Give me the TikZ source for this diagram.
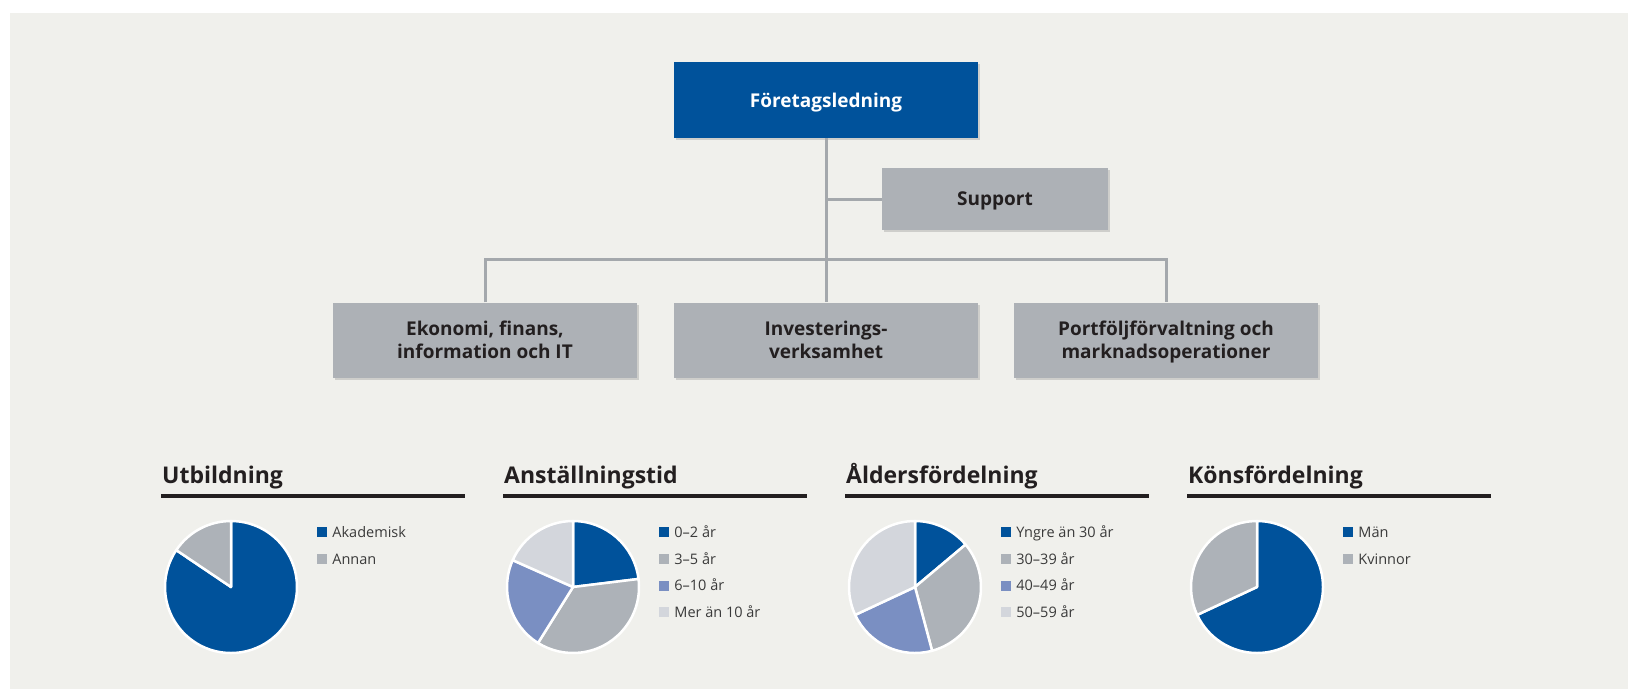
\documentclass[tikz,border=0pt]{standalone}
\usepackage{fontspec}
\setmainfont{Open Sans}
\usetikzlibrary{positioning,shadows}

\definecolor{sbblue}{HTML}{00529B}
\definecolor{boxgray}{HTML}{ADB1B6}
\definecolor{linkgray}{HTML}{A4A8AC}
\definecolor{bggray}{HTML}{F0F0EC}
\definecolor{textdark}{HTML}{231F20}
\definecolor{keytxt}{HTML}{3A3A3A}
\definecolor{midgray}{HTML}{ADB2B8}
\definecolor{lavblue}{HTML}{7A8FC2}
\definecolor{lightgray}{HTML}{D3D6DC}

\begin{document}
\begin{tikzpicture}[x=1pt, y=1pt,
  unit/.style={minimum width=304pt, minimum height=75pt, inner sep=0pt, align=center,
    text depth=0pt, fill=boxgray, text=textdark, font=\fontsize{19}{23}\selectfont\bfseries,
    drop shadow={shadow xshift=1.5pt, shadow yshift=-2pt, opacity=.3}},
  link/.style={draw=linkgray, line width=3pt},
  heading/.style={anchor=base west, inner sep=0pt, text=textdark, font=\fontsize{23}{27}\selectfont\bfseries},
  rule/.style={draw=textdark, line width=3.5pt},
  slice/.style={draw=white, line width=2.5pt, line join=round},
  key/.style={minimum size=10pt, inner sep=0pt},
  keytext/.style={inner sep=0pt, text=keytxt, font=\fontsize{14.5}{17}\selectfont}
]
\useasboundingbox (0,0) rectangle (1628,-689);
\fill[bggray] (10,-13) rectangle (1628,-689);

% organisation
\node[unit, fill=sbblue, text=white, minimum height=76pt] (lead) at (826,-100) {Företagsledning};
\node[unit, minimum width=226pt, minimum height=62pt] (support) at (995,-199) {Support};
\node[unit] (eco) at (485,-340) {Ekonomi, finans,\\information och IT};
\node[unit] (inv) at (826,-340) {Investerings-\\verksamhet};
\node[unit] (port) at (1166,-340) {Portföljförvaltning och\\marknadsoperationer};
\coordinate (bar) at (826,-259);
\draw[link] (lead.south) -- (inv.north);
\draw[link] (support.west) -- (support.west -| lead.south);
\draw[link] (eco.north) |- (bar) -| (port.north);

% headings
\node[heading] (h1) at (162,-483) {Utbildning};
\node[heading] (h2) at (504,-483) {Anställningstid};
\node[heading] (h3) at (846,-483) {Åldersfördelning};
\node[heading] (h4) at (1188,-483) {Könsfördelning};
\draw[rule] (161,-496) -- (465,-496);
\draw[rule] (503,-496) -- (807,-496);
\draw[rule] (845,-496) -- (1149,-496);
\draw[rule] (1187,-496) -- (1491,-496);

% pies
\coordinate (pie1) at (231,-587);
\coordinate (pie2) at (573,-587);
\coordinate (pie3) at (915,-587);
\coordinate (pie4) at (1257,-587);

\filldraw[slice, fill=sbblue] (pie1) -- ++(90:66) arc (90:-214:66) -- cycle;
\filldraw[slice, fill=midgray] (pie1) -- ++(146:66) arc (146:90:66) -- cycle;

\filldraw[slice, fill=sbblue] (pie2) -- ++(90:66) arc (90:7:66) -- cycle;
\filldraw[slice, fill=midgray] (pie2) -- ++(7:66) arc (7:-122:66) -- cycle;
\filldraw[slice, fill=lavblue] (pie2) -- ++(-122:66) arc (-122:-204:66) -- cycle;
\filldraw[slice, fill=lightgray] (pie2) -- ++(-204:66) arc (-204:-270:66) -- cycle;

\filldraw[slice, fill=sbblue] (pie3) -- ++(90:66) arc (90:40:66) -- cycle;
\filldraw[slice, fill=midgray] (pie3) -- ++(40:66) arc (40:-75:66) -- cycle;
\filldraw[slice, fill=lavblue] (pie3) -- ++(-75:66) arc (-75:-155:66) -- cycle;
\filldraw[slice, fill=lightgray] (pie3) -- ++(-155:66) arc (-155:-270:66) -- cycle;

\filldraw[slice, fill=sbblue] (pie4) -- ++(90:66) arc (90:-155:66) -- cycle;
\filldraw[slice, fill=midgray] (pie4) -- ++(-155:66) arc (-155:-270:66) -- cycle;

% legends
\node[key, fill=sbblue] (k11) at (322,-532) {};
\node[key, fill=midgray, below=16.4pt of k11] (k12) {};
\node[keytext, right=5pt of k11.south east, anchor=base west] (t11) {Akademisk};
\node[keytext, right=5pt of k12.south east, anchor=base west] (t12) {Annan};

\node[key, fill=sbblue] (k21) at (664,-532) {};
\node[key, fill=midgray, below=16.4pt of k21] (k22) {};
\node[key, fill=lavblue, below=16.4pt of k22] (k23) {};
\node[key, fill=lightgray, below=16.4pt of k23] (k24) {};
\node[keytext, right=5pt of k21.south east, anchor=base west] (t21) {0–2 år};
\node[keytext, right=5pt of k22.south east, anchor=base west] (t22) {3–5 år};
\node[keytext, right=5pt of k23.south east, anchor=base west] (t23) {6–10 år};
\node[keytext, right=5pt of k24.south east, anchor=base west] (t24) {Mer än 10 år};

\node[key, fill=sbblue] (k31) at (1006,-532) {};
\node[key, fill=midgray, below=16.4pt of k31] (k32) {};
\node[key, fill=lavblue, below=16.4pt of k32] (k33) {};
\node[key, fill=lightgray, below=16.4pt of k33] (k34) {};
\node[keytext, right=5pt of k31.south east, anchor=base west] (t31) {Yngre än 30 år};
\node[keytext, right=5pt of k32.south east, anchor=base west] (t32) {30–39 år};
\node[keytext, right=5pt of k33.south east, anchor=base west] (t33) {40–49 år};
\node[keytext, right=5pt of k34.south east, anchor=base west] (t34) {50–59 år};

\node[key, fill=sbblue] (k41) at (1348,-532) {};
\node[key, fill=midgray, below=16.4pt of k41] (k42) {};
\node[keytext, right=5pt of k41.south east, anchor=base west] (t41) {Män};
\node[keytext, right=5pt of k42.south east, anchor=base west] (t42) {Kvinnor};
\end{tikzpicture}
\end{document}
